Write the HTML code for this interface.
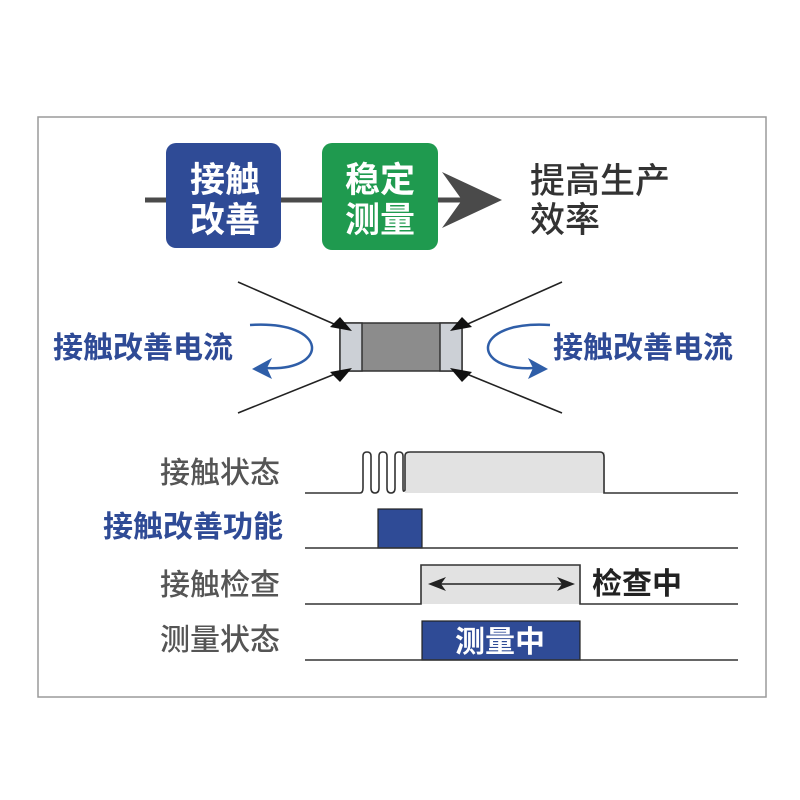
<!DOCTYPE html>
<html><head><meta charset="utf-8"><style>
body{margin:0;background:#fff}
svg{display:block}
text{font-family:"Liberation Sans","Noto Sans CJK SC",sans-serif;font-weight:bold}
</style></head><body>
<svg width="800" height="800" viewBox="0 0 800 800">
<rect x="38" y="117" width="728" height="580" fill="#fff" stroke="#9a9a9a" stroke-width="1.5"/>
<!-- top flow -->
<line x1="145" y1="200" x2="470" y2="200" stroke="#4a4a4a" stroke-width="5"/>
<polygon points="442,172 502,200 442,228 462,200" fill="#4a4a4a"/>
<rect x="166" y="143" width="115" height="105" rx="10" fill="#2f4b96"/>
<text x="225" y="192" font-size="35" fill="#fff" text-anchor="middle">接触</text>
<text x="225" y="232" font-size="35" fill="#fff" text-anchor="middle">改善</text>
<rect x="322" y="143" width="116" height="107" rx="10" fill="#1f9a4f"/>
<text x="380" y="192" font-size="35" fill="#fff" text-anchor="middle">稳定</text>
<text x="380" y="232" font-size="35" fill="#fff" text-anchor="middle">测量</text>
<text x="530" y="193" font-size="35" fill="#333" style="font-weight:500">提高生产</text>
<text x="530" y="232" font-size="35" fill="#333" style="font-weight:500">效率</text>
<!-- component -->
<g stroke="#222" stroke-width="1.6">
<line x1="238" y1="282" x2="350" y2="331"/>
<line x1="238" y1="413" x2="350" y2="368"/>
<line x1="562" y1="282" x2="452" y2="331"/>
<line x1="562" y1="413" x2="452" y2="368"/>
</g>
<rect x="340" y="323" width="122" height="48" fill="#8c8c8c" stroke="#333" stroke-width="1.5"/>
<rect x="340" y="323" width="22" height="48" fill="#ccd0d6" stroke="#333" stroke-width="1.5"/>
<rect x="440" y="323" width="22" height="48" fill="#ccd0d6" stroke="#333" stroke-width="1.5"/>
<g fill="#111">
<polygon points="352,331 330,327 340,317"/>
<polygon points="352,368 330,372 340,382"/>
<polygon points="450,331 472,327 462,317"/>
<polygon points="450,368 472,372 462,382"/>
</g>
<!-- curved arrows -->
<path d="M250,325 C330,320 330,372 265,368" fill="none" stroke="#2f5ea8" stroke-width="2.5"/>
<polygon points="252,369 272,358 267,368 272,379" fill="#2f5ea8"/>
<path d="M550,325 C470,320 470,372 535,368" fill="none" stroke="#2f5ea8" stroke-width="2.5"/>
<polygon points="548,369 528,358 533,368 528,379" fill="#2f5ea8"/>
<text x="53" y="358" font-size="30" fill="#2f4b96">接触改善电流</text>
<text x="553" y="358" font-size="30" fill="#2f4b96">接触改善电流</text>
<!-- timing labels -->
<text x="280" y="483" font-size="30" fill="#555" text-anchor="end" style="font-weight:500">接触状态</text>
<text x="283" y="537" font-size="30" fill="#2f4b96" text-anchor="end">接触改善功能</text>
<text x="280" y="595" font-size="30" fill="#555" text-anchor="end" style="font-weight:500">接触检查</text>
<text x="280" y="650" font-size="30" fill="#555" text-anchor="end" style="font-weight:500">测量状态</text>
<!-- row1 -->
<rect x="405" y="452" width="200" height="41" fill="#e2e2e2"/>
<path d="M305,493 H360 Q363,493 363,488 V456 Q363,452 367,452 Q371,452 371,456 V488 Q371,493 375,493 Q379,493 379,488 V456 Q379,452 383,452 Q387,452 387,456 V488 Q387,493 391,493 Q395,493 395,488 V456 Q395,452 399,452 Q403,452 403,456 V488 Q403,493 405,490 V456 Q405,452 410,452 H600 Q604,452 604,457 V493 H738" fill="none" stroke="#333" stroke-width="1.6"/>
<!-- row2 -->
<rect x="378" y="509" width="44" height="39" fill="#2f4b96" stroke="#222" stroke-width="1.2"/>
<line x1="305" y1="548" x2="738" y2="548" stroke="#333" stroke-width="1.6"/>
<!-- row3 -->
<rect x="421" y="565" width="159" height="39" fill="#e2e2e2"/>
<path d="M305,604 H421 V565 H580 V604 H738" fill="none" stroke="#333" stroke-width="1.6"/>
<line x1="435" y1="584" x2="568" y2="584" stroke="#222" stroke-width="1.6"/>
<polygon points="428,584 446,577 441,584 446,591" fill="#222"/>
<polygon points="575,584 557,577 562,584 557,591" fill="#222"/>
<text x="592" y="594" font-size="30" fill="#222">检查中</text>
<!-- row4 -->
<rect x="422" y="621" width="158" height="39" fill="#2f4b96" stroke="#222" stroke-width="1.2"/>
<line x1="305" y1="660" x2="738" y2="660" stroke="#333" stroke-width="1.6"/>
<text x="500" y="652" font-size="30" fill="#fff" text-anchor="middle">测量中</text>
</svg>
</body></html>
